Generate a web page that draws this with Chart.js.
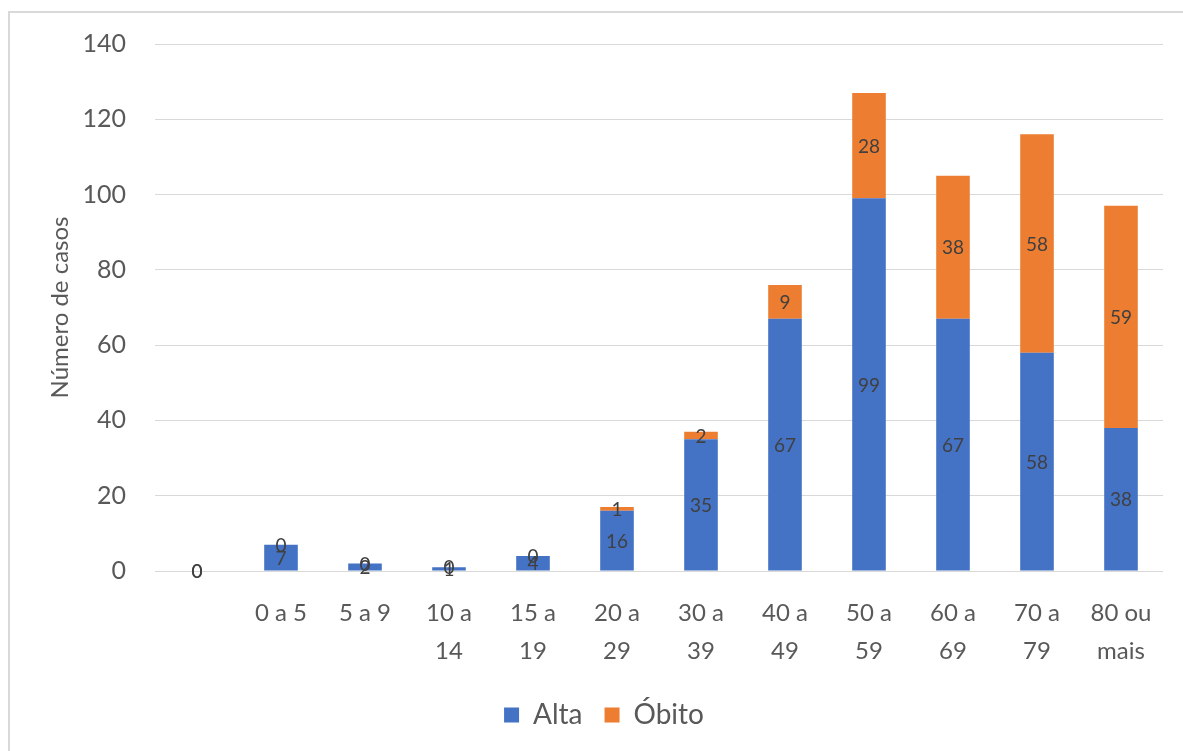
<!DOCTYPE html>
<html>
<head>
<meta charset="utf-8">
<script src="https://cdn.jsdelivr.net/npm/chart.js@4/dist/chart.umd.min.js"></script>
<style>
  html, body { margin: 0; padding: 0; background: #ffffff; overflow: hidden; }
  #wrap { position: relative; width: 1183px; height: 751px; }
  #frame { position: absolute; left: 8px; top: 11px; width: 1200px; height: 760px;
           border: 2px solid #d9d9d9; box-sizing: border-box; }
  canvas { position: absolute; left: 0; top: 0; }
</style>
</head>
<body>
<div id="wrap">
  <div id="frame"></div>
  <canvas id="c" width="1183" height="751"></canvas>
</div>
<script>
// Faixas etárias (a primeira categoria não tem rótulo)
const faixas = ["", "0 a 5", "5 a 9", ["10 a", "14"], ["15 a", "19"], ["20 a", "29"],
  ["30 a", "39"], ["40 a", "49"], ["50 a", "59"], ["60 a", "69"], ["70 a", "79"], ["80 ou", "mais"]];
const alta  = [0, 7, 2, 1, 4, 16, 35, 67, 99, 67, 58, 38];
const obito = [0, 0, 0, 0, 0, 1, 2, 9, 28, 38, 58, 59];
const yTicks = [0, 20, 40, 60, 80, 100, 120, 140];

const FONT = "Lato, 'Open Sans', sans-serif";
const TXT = "#595959";

// Rótulos de valor centrados em cada segmento da pilha
const valueLabels = {
  id: "valueLabels",
  afterDatasetsDraw(chart) {
    const ctx = chart.ctx;
    ctx.save();
    ctx.font = "19px " + FONT;
    ctx.fillStyle = "#404040";
    ctx.textAlign = "center";
    ctx.textBaseline = "middle";
    chart.data.datasets.forEach((ds, di) => {
      const meta = chart.getDatasetMeta(di);
      meta.data.forEach((bar, i) => {
        const p = bar.getProps(["x", "y", "base"], true);
        ctx.fillText(String(ds.data[i]), p.x, (p.y + p.base) / 2 + 1);
      });
    });
    ctx.restore();
  }
};

new Chart(document.getElementById("c"), {
  type: "bar",
  data: {
    labels: faixas,
    datasets: [
      { label: "Alta", data: alta, backgroundColor: "#4472C4", barPercentage: 0.4, categoryPercentage: 1 },
      { label: "Óbito", data: obito, backgroundColor: "#ED7D31", barPercentage: 0.4, categoryPercentage: 1 }
    ]
  },
  options: {
    responsive: false,
    animation: false,
    layout: { padding: { left: 45, right: 20, top: 42, bottom: 12 } },
    plugins: {
      tooltip: { enabled: false },
      legend: {
        position: "bottom",
        labels: {
          color: TXT,
          font: { family: FONT, size: 28 },
          boxWidth: 15,
          boxHeight: 15,
          padding: 22
        }
      }
    },
    scales: {
      x: {
        stacked: true,
        grid: { display: false, drawTicks: false },
        border: { display: false },
        ticks: {
          color: TXT,
          font: { family: FONT, size: 24, lineHeight: 1.6 },
          padding: 23,
          autoSkip: false,
          maxRotation: 0,
          minRotation: 0
        },
        afterFit(scale) { scale.height = 108; }
      },
      y: {
        stacked: true,
        min: 0,
        max: yTicks[yTicks.length - 1],
        grid: { color: "#d9d9d9", lineWidth: 1, drawTicks: false },
        border: { display: false },
        ticks: {
          stepSize: yTicks[1] - yTicks[0],
          color: TXT,
          font: { family: FONT, size: 25 },
          padding: 29
        },
        title: {
          display: true,
          text: "Número de casos",
          color: TXT,
          font: { family: FONT, size: 24 },
          padding: { top: 1, bottom: 0 }
        },
        afterFit(scale) { scale.width = 110; }
      }
    }
  },
  plugins: [valueLabels]
});
</script>
</body>
</html>
